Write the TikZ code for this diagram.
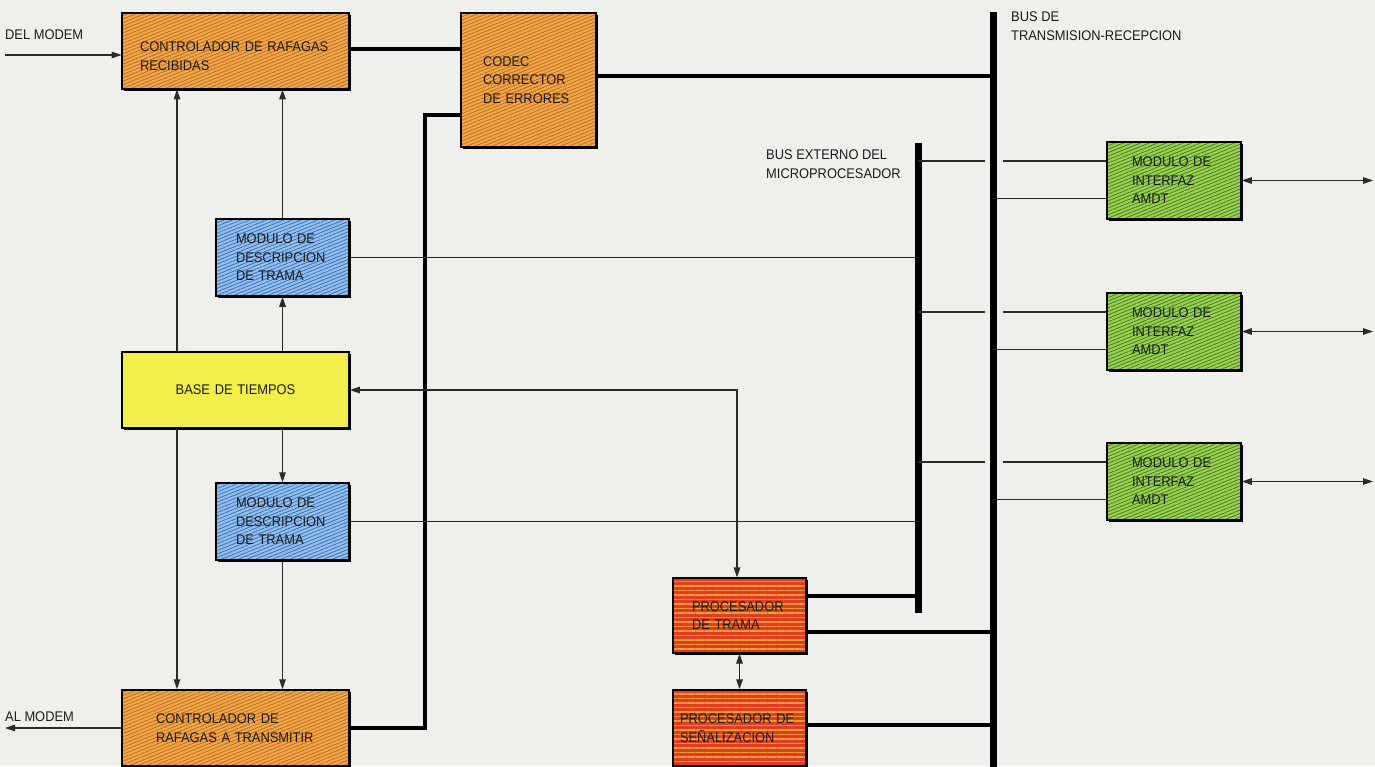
\documentclass[tikz,border=0pt]{standalone}
\usepackage{fontspec}
\setmainfont{Liberation Sans}[FakeStretch=0.92]
\usetikzlibrary{arrows.meta,patterns.meta,shadows,calc}
\definecolor{bg}{HTML}{EFEFEC}
\definecolor{txt}{HTML}{1A1A1A}
\definecolor{lin}{HTML}{2A2A2A}
\definecolor{orfill}{HTML}{F3A844}
\definecolor{orline}{HTML}{B8682A}
\definecolor{blfill}{HTML}{92C0F0}
\definecolor{blline}{HTML}{3A6EB0}
\definecolor{grfill}{HTML}{9CD250}
\definecolor{grline}{HTML}{3E7A22}
\definecolor{yefill}{HTML}{F2EE4A}
\definecolor{refill}{HTML}{E23E1C}
\definecolor{reline}{HTML}{F29A40}
\begin{document}
\begin{tikzpicture}[x=1pt,y=-1pt,
  every node/.style={font=\fontsize{14}{18.5}\selectfont, text=txt},
  box/.style={draw=black, line width=1.5pt,
    drop shadow={shadow xshift=1.8pt,shadow yshift=-1.8pt,fill=black,opacity=1},
    align=left, inner ysep=0pt},
  orangebox/.style={box, preaction={fill=orfill},
    pattern={Lines[angle=22,distance=3.2pt,line width=0.8pt]}, pattern color=orline},
  bluebox/.style={box, preaction={fill=blfill},
    pattern={Lines[angle=22,distance=3.2pt,line width=0.8pt]}, pattern color=blline},
  greenbox/.style={box, preaction={fill=grfill},
    pattern={Lines[angle=22,distance=3.2pt,line width=0.8pt]}, pattern color=grline},
  yellowbox/.style={box, fill=yefill},
  redbox/.style={box, preaction={fill=refill},
    pattern={Lines[angle=0,distance=4.5pt,line width=1.1pt]}, pattern color=reline},
  wire/.style={line width=1.2pt, draw=lin},
  arr/.style={wire, -{Triangle[length=10pt,width=6.5pt]}},
  darr/.style={wire, {Triangle[length=10pt,width=6.5pt]}-{Triangle[length=10pt,width=6.5pt]}},
  conn/.style={line width=3.2pt, draw=black},
  bus/.style={line width=7pt, draw=black},
  lbl/.style={anchor=north west, align=left, inner sep=0pt}
]
\fill[bg] (0,0) rectangle (1375,766);
\useasboundingbox (0,0) rectangle (1375,766);

% boxes
\node[orangebox, minimum height=76pt, text width=191pt, inner xsep=18pt] (crr) at (235.5,51)
  {\raisebox{-5pt}[\height][\depth]{\parbox{191pt}{CONTROLADOR DE RAFAGAS\\RECIBIDAS}}};
\node[orangebox, minimum height=134pt, text width=91pt, inner xsep=22pt] (codec) at (528.5,80)
  {CODEC\\CORRECTOR\\DE ERRORES};
\node[bluebox, minimum height=77pt, text width=93pt, inner xsep=20pt] (mdt1) at (282.5,257.5)
  {MODULO DE\\DESCRIPCION\\DE TRAMA};
\node[yellowbox, minimum height=76pt, text width=207pt, inner xsep=10pt, align=center] (base) at (235.5,390)
  {BASE DE TIEMPOS};
\node[bluebox, minimum height=77pt, text width=93pt, inner xsep=20pt] (mdt2) at (282.5,521.5)
  {MODULO DE\\DESCRIPCION\\DE TRAMA};
\node[orangebox, minimum height=76pt, text width=159pt, inner xsep=34pt] (crt) at (235.5,728)
  {CONTROLADOR DE\\RAFAGAS A TRANSMITIR};
\node[redbox, minimum height=75pt, text width=95pt, inner xsep=19pt] (pt) at (739.5,615.5)
  {PROCESADOR\\DE TRAMA};
\node[redbox, minimum height=76pt, text width=119pt, inner xsep=7pt] (ps) at (739.5,728)
  {PROCESADOR DE\\SEÑALIZACION};
\node[greenbox, minimum height=77pt, text width=84pt, inner xsep=25pt] (g1) at (1174,180.5)
  {MODULO DE\\INTERFAZ\\AMDT};
\node[greenbox, minimum height=77pt, text width=84pt, inner xsep=25pt] (g2) at (1174,331.5)
  {MODULO DE\\INTERFAZ\\AMDT};
\node[greenbox, minimum height=77pt, text width=84pt, inner xsep=25pt] (g3) at (1174,481.5)
  {MODULO DE\\INTERFAZ\\AMDT};

% labels
\node[lbl] (ldel) at (5,30) {DEL MODEM};
\node[lbl] (lal) at (5,712) {AL MODEM};
\node[lbl] (ltr) at (1011,12) {BUS DE\\TRANSMISION-RECEPCION};
\node[lbl] (lext) at (766,150) {BUS EXTERNO DEL\\MICROPROCESADOR};

% coordinates
\coordinate (trtop) at (993,12);
\coordinate (trbot) at (993,772);
\coordinate (extop) at (918,143);
\coordinate (exbot) at (918,613);
\coordinate (del) at (5,55);
\coordinate (alm) at (5,728);
\coordinate (c177) at (177,0);
\coordinate (cdx) at (425,400);
\coordinate (hopL) at (985,0);
\coordinate (hopR) at (1003,0);
\coordinate (outx) at (1373,0);

% buses
\draw[bus] (trtop) -- (trbot);
\draw[bus] (extop) -- (exbot);

% modem arrows
\draw[arr] (del) -- (del -| crr.west);
\draw[arr] (crt.west) -- (alm);

% thick connectors
\coordinate (crra) at ([yshift=2pt]crr.east);
\draw[conn] (crra) -- (crra -| codec.west);
\coordinate (codeca) at ([yshift=4pt]codec.east);
\draw[conn] (codeca) -- (codeca -| trtop);
\coordinate (codecb) at ([yshift=-35pt]codec.west);
\draw[conn] (codecb) -| (cdx) |- (crt.east);
\coordinate (pta) at ([yshift=19.5pt]pt.east);
\draw[conn] (pta) -- (pta -| extop);
\coordinate (ptb) at ([yshift=-16.5pt]pt.east);
\draw[conn] (ptb) -- (ptb -| trtop);
\coordinate (psa) at ([yshift=3pt]ps.east);
\draw[conn] (psa) -- (psa -| trtop);

% timing arrows
\draw[arr] (base.north -| c177) -- (crr.south -| c177);
\draw[arr] (base.south -| c177) -- (crt.north -| c177);
\draw[arr] (mdt1.north) -- (mdt1.north |- crr.south);
\draw[arr] (base.north -| mdt1.north) -- (mdt1.south);
\draw[arr] (base.south -| mdt2.north) -- (mdt2.north);
\draw[arr] (mdt2.south) -- (mdt2.south |- crt.north);

% frame description to external bus
\draw[wire] (mdt1.east) -- (mdt1.east -| extop);
\draw[wire] (mdt2.east) -- (mdt2.east -| extop);

% base de tiempos <-> procesador de trama
\draw[darr] (base.east) -| ([xshift=-2.5pt]pt.north);
\draw[darr] (pt.south) -- (ps.north);

% interface modules
\foreach \g in {g1,g2,g3} {
  \coordinate (\g a) at ([yshift=19.5pt]\g.west);
  \coordinate (\g b) at ([yshift=-18pt]\g.west);
  \draw[wire] (\g a -| extop) -- (\g a -| hopL);
  \draw[wire] (\g a -| hopR) -- (\g a);
  \draw[wire] (\g b -| trtop) -- (\g b);
  \draw[darr] (\g.east) -- (\g.east -| outx);
}
\end{tikzpicture}
\end{document}
